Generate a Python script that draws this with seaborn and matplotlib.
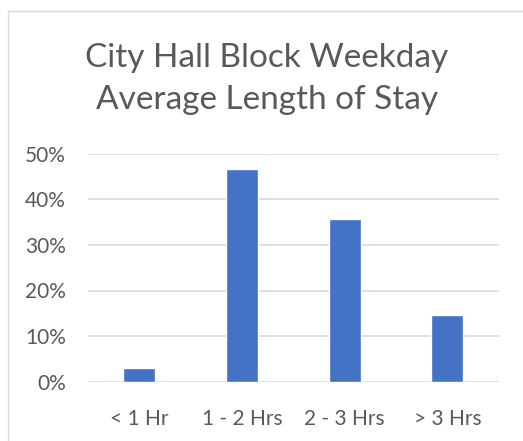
import matplotlib
matplotlib.use("Agg")
import matplotlib.pyplot as plt
import seaborn as sns
import pandas as pd
from matplotlib.patches import Rectangle
from matplotlib.ticker import PercentFormatter

categories = ["< 1 Hr", "1 - 2 Hrs", "2 - 3 Hrs", "> 3 Hrs"]
shares = [0.029, 0.467, 0.356, 0.146]
y_ticks = [0.0, 0.1, 0.2, 0.3, 0.4, 0.5]
title = "City Hall Block Weekday\nAverage Length of Stay"

df = pd.DataFrame({"cat": categories, "share": shares})

sns.set_theme(style="white")
plt.rcParams["font.family"] = ["Lato", "DejaVu Sans"]

W, H = 523, 441
fig = plt.figure(figsize=(W / 100, H / 100), dpi=100)
ax = fig.add_axes([88 / W, 1 - 381.7 / H, (498.7 - 88) / W, (381.7 - 153.7) / H])

sns.barplot(data=df, x="cat", y="share", color="#4472C4", saturation=1,
            width=0.31, ax=ax, zorder=3)

ax.set_ylim(0, 0.5)
ax.set_xlim(-0.5, 3.5)
ax.set_yticks(y_ticks)
ax.yaxis.set_major_formatter(PercentFormatter(1.0, decimals=0))
ax.grid(axis="y", color="#D9D9D9", lw=1.2, zorder=0)
ax.set_axisbelow(True)
for s in ax.spines.values():
    s.set_visible(False)
ax.set_xlabel("")
ax.set_ylabel("")
ax.tick_params(axis="both", length=0, colors="#595959", labelsize=15)
ax.tick_params(axis="y", pad=16)
ax.tick_params(axis="x", pad=20)

fig.text(267 / W, 1 - 79 / H, title, ha="center", va="center", fontsize=24,
         color="#595959", linespacing=1.5)

fig.patches.append(Rectangle((7.5 / W, -20 / H), (W + 20) / W, (H - 10.5 + 20) / H,
                             transform=fig.transFigure, fill=False,
                             edgecolor="#D9D9D9", lw=1))

fig.savefig("out.png", dpi=100, facecolor="white")
